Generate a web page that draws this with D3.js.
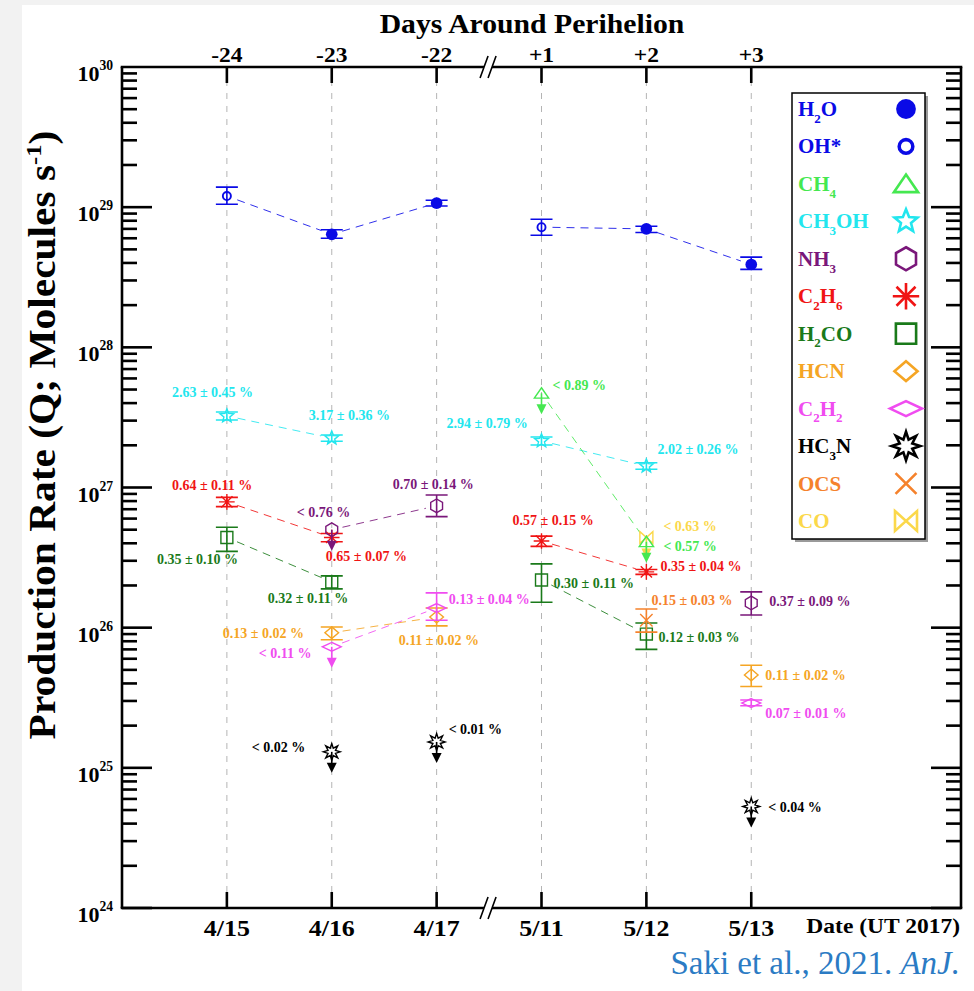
<!DOCTYPE html>
<html>
<head>
<meta charset="utf-8">
<title>Production rates around perihelion</title>
<script src="https://cdn.jsdelivr.net/npm/d3@7"></script>
<style>
  body { margin: 0; background: #f2f2f2; }
  svg text { font-family: "Liberation Serif", "Times New Roman", serif; font-weight: bold; }
</style>
</head>
<body>
<div id="chart"></div>
<script>
// ---- data ----
var dates = ["4/15", "4/16", "4/17", "5/11", "5/12", "5/13"];
var days = ["-24", "-23", "-22", "+1", "+2", "+3"];
var decades = [24, 25, 26, 27, 28, 29, 30];

var legendNames = ["H_2O", "OH*", "CH_4", "CH_3OH", "NH_3", "C_2H_6", "H_2CO", "HCN", "C_2H_2", "HC_3N", "OCS", "CO"];

// [Q, low, high] ; a single value means upper limit
var water = [[1.20e29, 1.05e29, 1.39e29], [6.4e28, 6.0e28, 6.9e28], [1.07e29, 1.02e29, 1.12e29],
             [7.2e28, 6.3e28, 8.2e28], [7.0e28, 6.6e28, 7.3e28], [3.9e28, 3.6e28, 4.4e28]];
var waterFromOH = [true, false, false, true, false, false];
var ch4 = [null, null, null, [4.7e27], [4.1e26], null];
var ch4Txt = [null, null, null, "< 0.89 %", "< 0.57 %", null];
var ch3oh = [[3.24e27, 3.03e27, 3.46e27], [2.25e27, 2.14e27, 2.37e27], null,
             [2.15e27, 2.01e27, 2.29e27], [1.42e27, 1.35e27, 1.50e27], null];
var ch3ohTxt = ["2.63 ± 0.45 %", "3.17 ± 0.36 %", null, "2.94 ± 0.79 %", "2.02 ± 0.26 %", null];
var nh3 = [null, [5.0e26], [7.4e26, 6.2e26, 8.85e26], null, null, [1.50e26, 1.23e26, 1.80e26]];
var nh3Txt = [null, "< 0.76 %", "0.70 ± 0.14 %", null, null, "0.37 ± 0.09 %"];
var c2h6 = [[7.9e26, 7.3e26, 8.5e26], [4.4e26, 4.1e26, 4.7e26], null,
            [4.15e26, 3.8e26, 4.5e26], [2.5e26, 2.4e26, 2.6e26], null];
var c2h6Txt = ["0.64 ± 0.11 %", "0.65 ± 0.07 %", null, "0.57 ± 0.15 %", "0.35 ± 0.04 %", null];
var h2co = [[4.4e26, 3.5e26, 5.2e26], [2.12e26, 1.89e26, 2.34e26], null,
            [2.19e26, 1.52e26, 2.85e26], [9.0e25, 7.0e25, 1.08e26], null];
var h2coTxt = ["0.35 ± 0.10 %", "0.32 ± 0.11 %", null, "0.30 ± 0.11 %", "0.12 ± 0.03 %", null];
var hcn = [null, [9.2e25, 8.2e25, 1.01e26], [1.19e26, 1.03e26, 1.38e26], null, null, [4.6e25, 3.8e25, 5.4e25]];
var hcnTxt = [null, "0.13 ± 0.02 %", "0.11 ± 0.02 %", null, null, "0.11 ± 0.02 %"];
var c2h2 = [null, [7.3e25], [1.38e26, 1.13e26, 1.77e26], null, null, [2.9e25, 2.77e25, 3.05e25]];
var c2h2Txt = [null, "< 0.11 %", "0.13 ± 0.04 %", null, null, "0.07 ± 0.01 %"];
var hc3n = [null, [1.30e25], [1.53e25], null, null, [5.3e24]];
var hc3nTxt = [null, "< 0.02 %", "< 0.01 %", null, null, "< 0.04 %"];
var ocs = [null, null, null, null, [1.13e26, 9.3e25, 1.36e26], null];
var ocsTxt = [null, null, null, null, "0.15 ± 0.03 %", null];
var co = [null, null, null, null, [4.4e26], null];
var coTxt = [null, null, null, null, "< 0.63 %", null];

// ---- look ----
var colors = ["#0a0ae6", "#0a0ae6", "#45e850", "#22e6ee", "#7a177a", "#f01414", "#1a7a1a", "#f5a524", "#f04cf0", "#000000", "#f5822c", "#fbd84a"];
var symbols = ["dot", "ring", "triangle", "star", "hexagon", "asterisk", "square", "diamond", "flat", "burst", "cross", "bowtie"];

// label offsets from each point (text start, baseline)
var labelAt = {
  ch4: [null, null, null, [11, -3], [17, 9], null],
  ch3oh: [[-55, -19], [-23, -18], null, [-95, -13], [11, -12], null],
  nh3: [null, [-35, -13], [-44, -17], null, null, [18, 3]],
  c2h6: [[-55, -12], [-6, 24], null, [-29, -16], [14, -1], null],
  h2co: [[-70, 27], [-64, 21], null, [12, 8], [12, 8], null],
  hcn: [null, [-109, 5], [-38, 28], null, null, [14, 5]],
  c2h2: [null, [-73, 11], [12, -4], null, null, [14, 15]],
  hc3n: [null, [-80, 0], [12, -8], null, null, [17, 6]],
  ocs: [null, null, null, null, [5, -15], null],
  co: [null, null, null, null, [17, -6], null]
};

var series = [
  {key: "water", q: water, txt: null, idx: 0, linked: true},
  {key: "ch3oh", q: ch3oh, txt: ch3ohTxt, idx: 3, linked: true},
  {key: "c2h6", q: c2h6, txt: c2h6Txt, idx: 5, linked: true},
  {key: "h2co", q: h2co, txt: h2coTxt, idx: 6, linked: true},
  {key: "nh3", q: nh3, txt: nh3Txt, idx: 4, linked: true},
  {key: "hcn", q: hcn, txt: hcnTxt, idx: 7, linked: true},
  {key: "c2h2", q: c2h2, txt: c2h2Txt, idx: 8, linked: true},
  {key: "ocs", q: ocs, txt: ocsTxt, idx: 10, linked: false},
  {key: "co", q: co, txt: coTxt, idx: 11, linked: false},
  {key: "ch4", q: ch4, txt: ch4Txt, idx: 2, linked: true},
  {key: "hc3n", q: hc3n, txt: hc3nTxt, idx: 9, linked: false}
];

var W = 974, H = 991;
var x = d3.scaleLinear().domain([-1, 7]).range([122, 961]);
var y = d3.scaleLog().domain([1e24, 1e30]).range([908, 67]);
var breakX = x(2.5);

var svg = d3.select("#chart").append("svg").attr("width", W).attr("height", H);
svg.append("rect").attr("width", W).attr("height", H).attr("fill", "#f2f2f2");
svg.append("rect").attr("x", 22).attr("y", 5).attr("width", W - 22).attr("height", H - 5).attr("fill", "#fff");

// text with _sub and ^sup pieces, optional horizontal stretch
function put(g, px, py, str, size, anchor, color, sx) {
  var t = g.append("text")
    .attr("transform", "translate(" + px + "," + py + ") scale(" + (sx || 1) + ",1)")
    .attr("text-anchor", anchor || "start")
    .attr("font-size", size)
    .attr("fill", color || "#000");
  var parts = str.split(/(_\d|\^[-\d]+)/);
  var shift = 0;
  parts.forEach(function(p) {
    if (!p) return;
    var target = 0, fs = size, s = p;
    if (p[0] === "_") { target = size * 0.32; fs = size * 0.62; s = p.slice(1); }
    else if (p[0] === "^") { target = -size * 0.5; fs = size * 0.62; s = p.slice(1); }
    t.append("tspan").attr("dy", target - shift).attr("font-size", fs).text(s);
    shift = target;
  });
  return t;
}

function starPath(n, r1, r2) {
  var pts = [];
  for (var k = 0; k < 2 * n; k++) {
    var a = -Math.PI / 2 + k * Math.PI / n, r = k % 2 ? r2 : r1;
    pts.push([r * Math.cos(a), r * Math.sin(a)]);
  }
  return "M" + pts.join("L") + "Z";
}

function symbolPath(type, s) {
  switch (type) {
    case "triangle": return "M0," + (-s * 0.85) + "L" + (s * 1.1) + "," + (s * 0.75) + "L" + (-s * 1.1) + "," + (s * 0.75) + "Z";
    case "star": return starPath(5, s * 1.1, s * 0.48);
    case "hexagon":
      var h = [];
      for (var k = 0; k < 6; k++) { var a = -Math.PI / 2 + k * Math.PI / 3; h.push([s * 1.05 * Math.cos(a), s * 1.05 * Math.sin(a)]); }
      return "M" + h.join("L") + "Z";
    case "asterisk":
      var r = s * 1.2, d = r * 0.72;
      return "M0," + (-r) + "V" + r + "M" + (-r) + ",0H" + r + "M" + (-d) + "," + (-d) + "L" + d + "," + d + "M" + d + "," + (-d) + "L" + (-d) + "," + d;
    case "square": var q = s * 0.92; return "M" + (-q) + "," + (-q) + "H" + q + "V" + q + "H" + (-q) + "Z";
    case "diamond": return "M0," + (-s * 0.9) + "L" + (s * 1.05) + ",0L0," + (s * 0.9) + "L" + (-s * 1.05) + ",0Z";
    case "flat": return "M0," + (-s * 0.68) + "L" + (s * 1.45) + ",0L0," + (s * 0.68) + "L" + (-s * 1.45) + ",0Z";
    case "burst": return starPath(8, s * 1.3, s * 0.62);
    case "cross": var c = s * 0.95; return "M" + (-c) + "," + (-c) + "L" + c + "," + c + "M" + c + "," + (-c) + "L" + (-c) + "," + c;
    case "bowtie": var bw = s, bh = s * 0.9; return "M" + (-bw) + "," + (-bh) + "L" + bw + "," + bh + "V" + (-bh) + "L" + (-bw) + "," + bh + "Z";
  }
}

function drawSymbol(g, type, cx, cy, s, color, sw) {
  if (type === "dot") {
    g.append("circle").attr("cx", cx).attr("cy", cy).attr("r", s * 0.9).attr("fill", color);
  } else if (type === "ring") {
    g.append("circle").attr("cx", cx).attr("cy", cy).attr("r", s * 0.62)
      .attr("fill", "none").attr("stroke", color).attr("stroke-width", sw * 1.35);
  } else {
    g.append("path").attr("transform", "translate(" + cx + "," + cy + ")")
      .attr("d", symbolPath(type, s)).attr("fill", "none")
      .attr("stroke", color).attr("stroke-width", sw).attr("stroke-linejoin", "miter");
  }
}

var yTop = y(1e30), yBot = y(1e24), xLeft = x(-1), xRight = x(7);

// ---- grid ----
var grid = svg.append("g");
dates.forEach(function(d, i) {
  grid.append("line").attr("x1", x(i)).attr("x2", x(i)).attr("y1", yTop).attr("y2", yBot)
    .attr("stroke", "#b4b4b4").attr("stroke-width", 1).attr("stroke-dasharray", "6,7");
});

// ---- connecting lines ----
var lines = svg.append("g");
series.forEach(function(s) {
  if (!s.linked) return;
  for (var i = 0; i < s.q.length - 1; i++) {
    if (!s.q[i] || !s.q[i + 1] || i === 2) continue;
    var x1 = x(i), y1 = y(s.q[i][0]), x2 = x(i + 1), y2 = y(s.q[i + 1][0]);
    var len = Math.hypot(x2 - x1, y2 - y1), ux = (x2 - x1) / len, uy = (y2 - y1) / len;
    lines.append("line")
      .attr("x1", x1 + ux * 11).attr("y1", y1 + uy * 11)
      .attr("x2", x2 - ux * 11).attr("y2", y2 - uy * 11)
      .attr("stroke", colors[s.idx]).attr("stroke-width", 1).attr("stroke-opacity", 0.85)
      .attr("stroke-dasharray", "8,6");
  }
});

// ---- points ----
var pts = svg.append("g");
series.forEach(function(s) {
  var col = colors[s.idx];
  s.q.forEach(function(v, i) {
    if (!v) return;
    var cx = x(i), cy = y(v[0]);
    if (v.length === 3) {
      var yl = y(v[1]), yh = y(v[2]);
      pts.append("path")
        .attr("d", "M" + cx + "," + yl + "V" + yh + "M" + (cx - 11) + "," + yl + "h22M" + (cx - 11) + "," + yh + "h22")
        .attr("stroke", col).attr("stroke-width", 1.6).attr("fill", "none");
    } else {
      pts.append("line").attr("x1", cx).attr("x2", cx).attr("y1", cy).attr("y2", cy + 12)
        .attr("stroke", col).attr("stroke-width", 1.6);
      pts.append("path").attr("d", "M" + (cx - 5) + "," + (cy + 11) + "L" + (cx + 5) + "," + (cy + 11) + "L" + cx + "," + (cy + 21) + "Z")
        .attr("fill", col);
    }
    var sym = symbols[s.idx];
    if (s.key === "water") sym = waterFromOH[i] ? "ring" : "dot";
    drawSymbol(pts, sym, cx, cy, 6.5, col, 1.4);
    if (s.txt && s.txt[i]) {
      var off = labelAt[s.key][i];
      put(pts, cx + off[0], cy + off[1], s.txt[i], 14, "start", col);
    }
  });
});

// ---- axes ----
var ax = svg.append("g").attr("stroke", "#000").attr("fill", "none");
ax.append("line").attr("x1", xLeft).attr("x2", xLeft).attr("y1", yTop).attr("y2", yBot).attr("stroke-width", 2.6);
ax.append("line").attr("x1", xRight).attr("x2", xRight).attr("y1", yTop).attr("y2", yBot).attr("stroke-width", 2.6);
[yTop, yBot].forEach(function(yy) {
  ax.append("line").attr("x1", xLeft - 1.3).attr("x2", xRight + 1.3).attr("y1", yy).attr("y2", yy).attr("stroke-width", 2.6);
  // axis break
  ax.append("path").attr("d", "M" + (breakX - 9) + "," + (yy + 11) + "L" + (breakX - 1) + "," + (yy - 11) +
      "L" + (breakX + 7) + "," + (yy - 11) + "L" + (breakX - 1) + "," + (yy + 11) + "Z")
    .attr("fill", "#fff").attr("stroke", "none");
  ax.append("path").attr("d", "M" + (breakX - 9) + "," + (yy + 11) + "L" + (breakX - 1) + "," + (yy - 11) +
      "M" + (breakX - 1) + "," + (yy + 11) + "L" + (breakX + 7) + "," + (yy - 11))
    .attr("stroke-width", 1.6);
  dates.forEach(function(d, i) {
    var dir = yy === yTop ? 1 : -1;
    ax.append("line").attr("x1", x(i)).attr("x2", x(i)).attr("y1", yy).attr("y2", yy + dir * 16).attr("stroke-width", 2.6);
  });
});
decades.forEach(function(e) {
  if (e === 30) return;
  for (var m = 1; m <= 9; m++) {
    var yy = y(m * Math.pow(10, e));
    var len = m === 1 ? 30 : 15;
    ax.append("line").attr("x1", xLeft).attr("x2", xLeft + len).attr("y1", yy).attr("y2", yy).attr("stroke-width", 2.6);
    ax.append("line").attr("x1", xRight).attr("x2", xRight - len).attr("y1", yy).attr("y2", yy).attr("stroke-width", 2.6);
  }
});

// ---- labels ----
var lab = svg.append("g");
decades.forEach(function(e) {
  put(lab, 113, y(Math.pow(10, e)) + 14, "10^" + e, 22, "end");
});
days.forEach(function(d, i) { put(lab, x(i), 62, d, 21, "middle", "#000", 1.12); });
dates.forEach(function(d, i) { put(lab, x(i), 936, d, 24, "middle", "#000", 1.08); });
put(lab, 532, 33, "Days Around Perihelion", 27, "middle", "#000", 1.1);
put(lab, 960, 933, "Date (UT 2017)", 21, "end", "#000", 1.12);
lab.append("text").attr("transform", "translate(55,435) rotate(-90) scale(1.12,1)")
  .attr("text-anchor", "middle").attr("font-size", 37)
  .call(function(t) {
    t.append("tspan").text("Production Rate (Q; Molecules s");
    t.append("tspan").attr("dy", -14).attr("font-size", 22).text("-1");
    t.append("tspan").attr("dy", 14).text(")");
  });
var cite = svg.append("text").attr("x", 960).attr("y", 974).attr("text-anchor", "end")
  .attr("font-size", 33).attr("fill", "#2b7bc4").style("font-weight", "normal");
cite.append("tspan").text("Saki et al., 2021. ");
cite.append("tspan").attr("font-style", "italic").text("AnJ.");

// ---- legend ----
var lg = svg.append("g");
lg.append("rect").attr("x", 795).attr("y", 96).attr("width", 133).attr("height", 446).attr("fill", "#9a9a9a");
lg.append("rect").attr("x", 792).attr("y", 93).attr("width", 133).attr("height", 446)
  .attr("fill", "#fff").attr("stroke", "#000").attr("stroke-width", 1.5);
legendNames.forEach(function(n, i) {
  var ly = 109 + i * 37.45;
  put(lg, 798, ly + 7, n, 21, "start", colors[i]);
  drawSymbol(lg, symbols[i], 906, ly, 11, colors[i], 2.6);
});
</script>
</body>
</html>
